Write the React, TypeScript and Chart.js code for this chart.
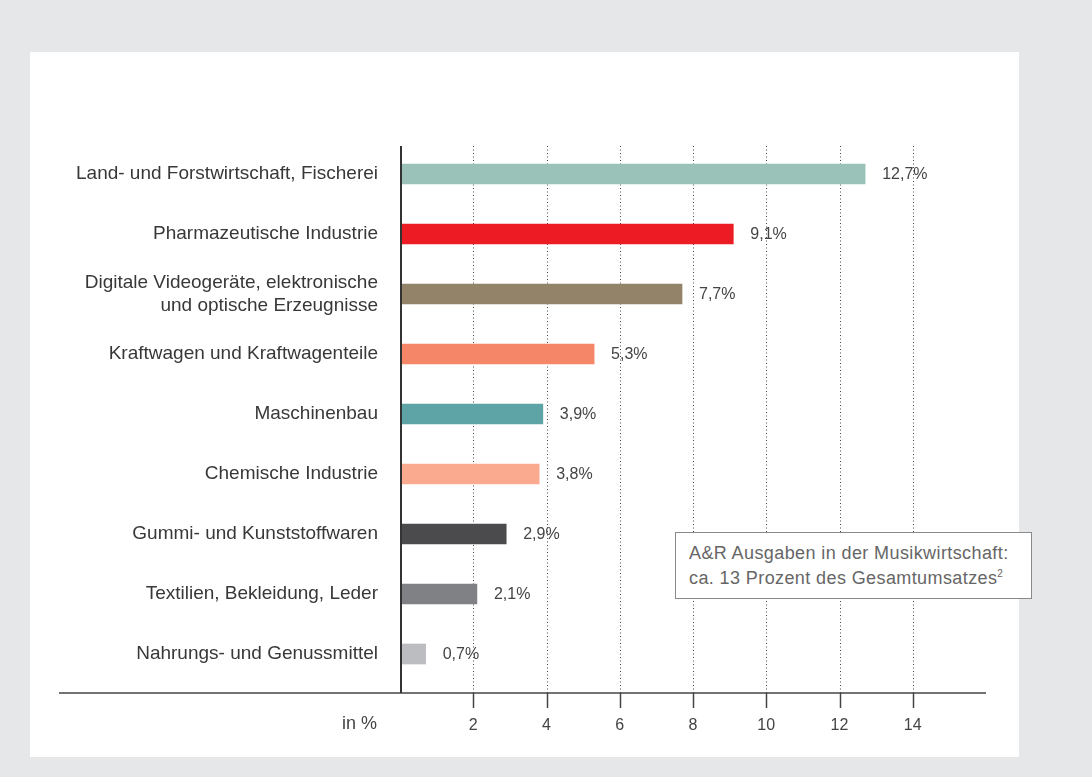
import React, { useEffect, useRef } from 'react';
import { Chart, registerables } from 'chart.js';

Chart.register(...registerables);

const categories: (string | string[])[] = [
  'Land- und Forstwirtschaft, Fischerei',
  'Pharmazeutische Industrie',
  ['Digitale Videogeräte, elektronische', 'und optische Erzeugnisse'],
  'Kraftwagen und Kraftwagenteile',
  'Maschinenbau',
  'Chemische Industrie',
  'Gummi- und Kunststoffwaren',
  'Textilien, Bekleidung, Leder',
  'Nahrungs- und Genussmittel',
];
const values = [12.7, 9.1, 7.7, 5.3, 3.9, 3.8, 2.9, 2.1, 0.7];
const valueLabels = ['12,7%', '9,1%', '7,7%', '5,3%', '3,9%', '3,8%', '2,9%', '2,1%', '0,7%'];
const barColors = [
  '#9bc2b9',
  '#ed1c24',
  '#938469',
  '#f58668',
  '#5ea3a6',
  '#f9aa8f',
  '#4b4b4d',
  '#808184',
  '#bcbdc0',
];
const tickValues = [2, 4, 6, 8, 10, 12, 14];
const axisMin = 0;
const axisMax = 16;
const axisTitle = 'in %';
const noteLine1 = 'A&R Ausgaben in der Musikwirtschaft:';
const noteLine2 = 'ca. 13 Prozent des Gesamtumsatzes';
const noteSup = '2';

const FONT = '"Liberation Sans", Arial, sans-serif';

const decorPlugin = {
  id: 'decor',
  beforeDatasetsDraw(chart: any) {
    const { ctx, chartArea, scales } = chart;
    const x = scales.x;
    const top = chartArea.top + 2;
    const axisY = chartArea.bottom + 9;
    ctx.save();
    ctx.strokeStyle = '#444';
    ctx.lineWidth = 1;
    ctx.setLineDash([1, 2.5]);
    tickValues.forEach((v) => {
      const px = Math.round(x.getPixelForValue(v)) + 0.5;
      ctx.beginPath();
      ctx.moveTo(px, top);
      ctx.lineTo(px, axisY);
      ctx.stroke();
    });
    ctx.restore();
  },
  afterDatasetsDraw(chart: any) {
    const { ctx, chartArea, scales } = chart;
    const x = scales.x;
    const top = chartArea.top + 2;
    const axisY = chartArea.bottom + 9;
    const x0 = x.getPixelForValue(axisMin);
    ctx.save();
    // horizontal axis
    ctx.strokeStyle = '#444';
    ctx.lineWidth = 1.5;
    ctx.beginPath();
    ctx.moveTo(59, axisY);
    ctx.lineTo(chartArea.right, axisY);
    ctx.stroke();
    // tick marks
    ctx.lineWidth = 1.5;
    tickValues.forEach((v) => {
      const px = Math.round(x.getPixelForValue(v)) + 0.5;
      ctx.beginPath();
      ctx.moveTo(px, axisY);
      ctx.lineTo(px, axisY + 15);
      ctx.stroke();
    });
    // vertical axis
    ctx.strokeStyle = '#333';
    ctx.lineWidth = 2;
    ctx.beginPath();
    ctx.moveTo(x0 + 1, top);
    ctx.lineTo(x0 + 1, axisY);
    ctx.stroke();
    // value labels
    const meta = chart.getDatasetMeta(0);
    ctx.fillStyle = '#444';
    ctx.font = `16px ${FONT}`;
    ctx.textAlign = 'left';
    ctx.textBaseline = 'middle';
    meta.data.forEach((bar: any, i: number) => {
      ctx.fillText(valueLabels[i], bar.x + 17, bar.y + 1);
    });
    // axis title
    ctx.font = `18px ${FONT}`;
    ctx.textAlign = 'right';
    ctx.textBaseline = 'alphabetic';
    ctx.fillText(axisTitle, x0 - 23, axisY + 36);
    ctx.restore();
  },
};

export default function App() {
  const canvasRef = useRef<HTMLCanvasElement | null>(null);

  useEffect(() => {
    const canvas = canvasRef.current;
    if (!canvas) return;
    const chart = new Chart(canvas, {
      type: 'bar',
      data: {
        labels: categories as any,
        datasets: [
          {
            data: values,
            backgroundColor: barColors,
            borderWidth: 0,
            barThickness: 20,
          },
        ],
      },
      options: {
        indexAxis: 'y',
        responsive: false,
        animation: false,
        events: [],
        layout: { padding: { top: 144, right: 106, left: 0, bottom: 0 } },
        plugins: {
          legend: { display: false },
          tooltip: { enabled: false },
          title: { display: false },
        },
        scales: {
          y: {
            type: 'category',
            grid: { display: false, drawTicks: false },
            border: { display: false },
            ticks: {
              padding: 22,
              color: '#383838',
              font: { family: FONT, size: 19, lineHeight: 1.2 },
            },
            afterFit(scale: any) {
              scale.width = 400;
            },
          },
          x: {
            type: 'linear',
            min: axisMin,
            max: axisMax,
            grid: { display: false, drawTicks: false },
            border: { display: false },
            ticks: {
              stepSize: 2,
              padding: 32,
              color: '#444',
              font: { family: FONT, size: 16 },
              maxRotation: 0,
              callback: (v: any) => (tickValues.includes(Number(v)) ? String(v) : ''),
            },
            afterFit(scale: any) {
              scale.height = 93;
            },
          },
        },
      },
      plugins: [decorPlugin],
    });
    return () => chart.destroy();
  }, []);

  return (
    <div
      style={{
        position: 'fixed',
        left: 0,
        top: 0,
        width: 1092,
        height: 777,
        background: '#e6e7e9',
        overflow: 'hidden',
      }}
    >
      <div
        style={{
          position: 'absolute',
          left: 30,
          top: 52,
          width: 989,
          height: 705,
          background: '#ffffff',
        }}
      />
      <canvas
        ref={canvasRef}
        width={1092}
        height={777}
        style={{ position: 'absolute', left: 0, top: 0, width: 1092, height: 777 }}
      />
      <div
        style={{
          position: 'absolute',
          left: 675,
          top: 532,
          width: 357,
          height: 67,
          boxSizing: 'border-box',
          border: '1px solid #8a8a8a',
          background: '#ffffff',
          paddingLeft: 13,
          paddingTop: 8,
          fontFamily: FONT,
          fontSize: 18,
          letterSpacing: '0.4px',
          lineHeight: '25px',
          color: '#666',
          whiteSpace: 'nowrap',
        }}
      >
        <div>{noteLine1}</div>
        <div>
          {noteLine2}
          <span style={{ fontSize: 10, verticalAlign: 'top', lineHeight: '16px', letterSpacing: 0 }}>{noteSup}</span>
        </div>
      </div>
    </div>
  );
}
